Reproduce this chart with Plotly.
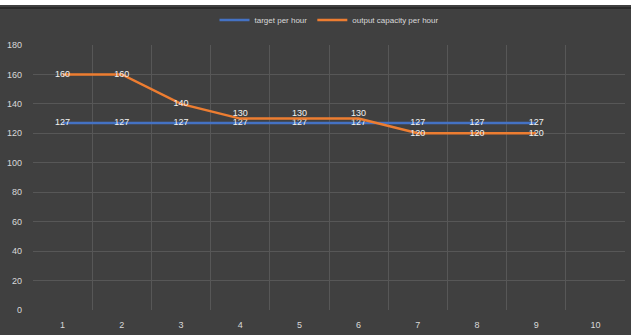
import plotly.graph_objects as go

categories = [1, 2, 3, 4, 5, 6, 7, 8, 9, 10]
target_per_hour = [127, 127, 127, 127, 127, 127, 127, 127, 127]
output_capacity = [160, 160, 140, 130, 130, 130, 120, 120, 120]
y_ticks = [0, 20, 40, 60, 80, 100, 120, 140, 160, 180]

W, H = 631, 335
T, B = 45, 25
PH = H - T - B

def py(pix):
    # convert pixel y (from top) to paper coordinate
    return 1 + (T - pix) / PH

# labels of the upper line are lifted where the two lines nearly touch
out_pos = ["top center" if abs(o - t) < 5 else "middle center"
           for o, t in zip(output_capacity, target_per_hour)]

fig = go.Figure()
fig.add_trace(go.Scatter(
    x=categories[:len(target_per_hour)], y=target_per_hour, name="target per hour",
    mode="lines+text", text=[str(v) for v in target_per_hour], textposition="middle center",
    textfont=dict(color="#f2f2f2", size=9, family="Liberation Sans"),
    line=dict(color="#4472C4", width=2.5)))
fig.add_trace(go.Scatter(
    x=categories[:len(output_capacity)], y=output_capacity, name="output capacity per hour",
    mode="lines+text", text=[str(v) for v in output_capacity], textposition=out_pos,
    textfont=dict(color="#f2f2f2", size=9, family="Liberation Sans"),
    line=dict(color="#ED7D31", width=2.5)))

fig.update_layout(
    width=W, height=H,
    margin=dict(l=33, r=6, t=T, b=B),
    paper_bgcolor="#404040", plot_bgcolor="#404040",
    font=dict(family="Liberation Sans", color="#d9d9d9", size=9),
    showlegend=True,
    legend=dict(orientation="h", x=0.5, xanchor="center", y=py(20), yanchor="middle",
                font=dict(size=8, color="#d9d9d9"), bgcolor="rgba(0,0,0,0)"),
    xaxis=dict(range=[0.5, 10.5], tickmode="array", tickvals=categories,
               ticktext=[str(c) for c in categories], showgrid=False, zeroline=False,
               showline=False, ticks="", tickfont=dict(size=9, color="#d9d9d9"),
               ticklabelstandoff=8,
               minor=dict(tick0=0.5, dtick=1, showgrid=True, gridcolor="#575757", gridwidth=1, ticks="")),
    yaxis=dict(range=[0, 180], tickmode="array", tickvals=y_ticks, showgrid=True,
               gridcolor="#575757", gridwidth=1, zeroline=False, showline=False, ticks="",
               ticklabelstandoff=10,
               tickfont=dict(size=9, color="#d9d9d9")),
    shapes=[
        dict(type="rect", xref="paper", yref="paper", x0=-1, x1=2,
             y0=py(5), y1=py(-10),
             fillcolor="white", line=dict(width=0), layer="above"),
        dict(type="line", xref="paper", yref="paper", x0=-1, x1=2,
             y0=py(8), y1=py(8),
             line=dict(color="#2a2a2a", width=2), layer="above"),
    ],
)
fig.write_html("out.html")
